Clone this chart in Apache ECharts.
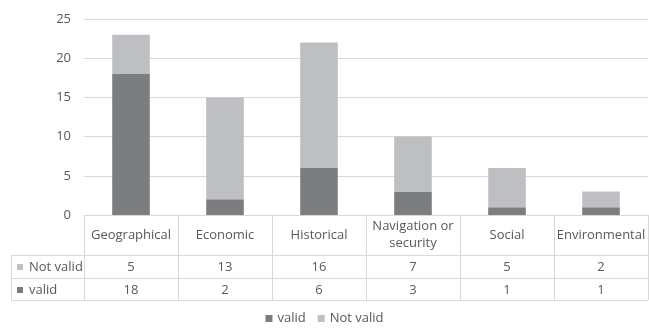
<!DOCTYPE html>
<html>
<head>
<meta charset="utf-8">
<script src="https://cdn.jsdelivr.net/npm/echarts@6/dist/echarts.min.js"></script>
<style>
  html, body { margin: 0; padding: 0; background: #fff; }
  #main { width: 649px; height: 330px; }
</style>
</head>
<body>
<div id="main"></div>
<script>
var categories = ['Geographical', 'Economic', 'Historical', 'Navigation or\nsecurity', 'Social', 'Environmental'];
var validVals = [18, 2, 6, 3, 1, 1];
var notValidVals = [5, 13, 16, 7, 5, 2];
var yTicks = [0, 5, 10, 15, 20, 25];

var colValid = '#7c7d81';
var colNotValid = '#bebfc3';
var lineCol = '#d9d9d9';
var txtCol = '#595959';
var font = '"Open Sans", "Noto Sans", sans-serif';
var fs = 13;

var myChart = echarts.init(document.getElementById('main'));

// hidden helper axes: used only to put the table rows under each category
function rowAxis(vals, margin) {
  return {
    type : 'category',
    position : 'bottom',
    data : vals.map(String),
    axisLine : { show : false },
    axisTick : { show : false },
    axisLabel : {
      interval : 0,
      margin : margin,
      verticalAlign : 'middle',
      color : txtCol,
      fontFamily : font,
      fontSize : fs
    }
  };
}

function rowLabel(y, color, text) {
  return {
    type : 'group',
    children : [
      { type : 'rect', shape : { x : 17, y : y - 3, width : 6, height : 6 }, style : { fill : color } },
      { type : 'text', x : 29, y : y, style : { text : text, fill : txtCol, font : fs + 'px ' + font, verticalAlign : 'middle' } }
    ]
  };
}

function hline(x1, x2, y) {
  return { type : 'line', shape : { x1 : x1, y1 : y, x2 : x2, y2 : y }, style : { stroke : lineCol, lineWidth : 1 } };
}

var option = {
  animation : false,
  textStyle : { fontFamily : font },
  grid : { left : 84, right : 1, top : 19, bottom : 115 },
  legend : {
    data : ['valid', 'Not valid'],
    bottom : 0,
    icon : 'rect',
    itemWidth : 7,
    itemHeight : 7,
    itemGap : 12,
    itemStyle : { borderWidth : 0 },
    textStyle : { color : txtCol, fontSize : fs, fontFamily : font }
  },
  xAxis : [ {
    type : 'category',
    data : categories,
    axisLine : { show : true, lineStyle : { color : lineCol } },
    axisTick : { show : true, length : 85, lineStyle : { color : lineCol } },
    axisLabel : {
      interval : 0,
      margin : 20,
      verticalAlign : 'middle',
      lineHeight : 17,
      color : txtCol,
      fontFamily : font,
      fontSize : fs
    }
  },
  rowAxis(notValidVals, 52),
  rowAxis(validVals, 75) ],
  yAxis : [ {
    type : 'value',
    min : yTicks[0],
    max : yTicks[yTicks.length - 1],
    interval : 5,
    axisLine : { show : false },
    axisTick : { show : false },
    axisLabel : { margin : 13, color : txtCol, fontFamily : font, fontSize : fs },
    splitLine : { lineStyle : { color : lineCol } }
  } ],
  series : [ {
    name : 'valid',
    type : 'bar',
    stack : 'total',
    barWidth : '40%',
    itemStyle : { color : colValid },
    data : validVals
  }, {
    name : 'Not valid',
    type : 'bar',
    stack : 'total',
    barWidth : '40%',
    itemStyle : { color : colNotValid },
    data : notValidVals
  } ],
  graphic : [
    hline(11, 648, 255.5),
    hline(11, 648, 278.5),
    hline(11, 648, 300.5),
    { type : 'line', shape : { x1 : 11.5, y1 : 255, x2 : 11.5, y2 : 301 }, style : { stroke : lineCol, lineWidth : 1 } },
    rowLabel(267, colNotValid, 'Not valid'),
    rowLabel(290, colValid, 'valid')
  ]
};
myChart.setOption(option);
</script>
</body>
</html>
